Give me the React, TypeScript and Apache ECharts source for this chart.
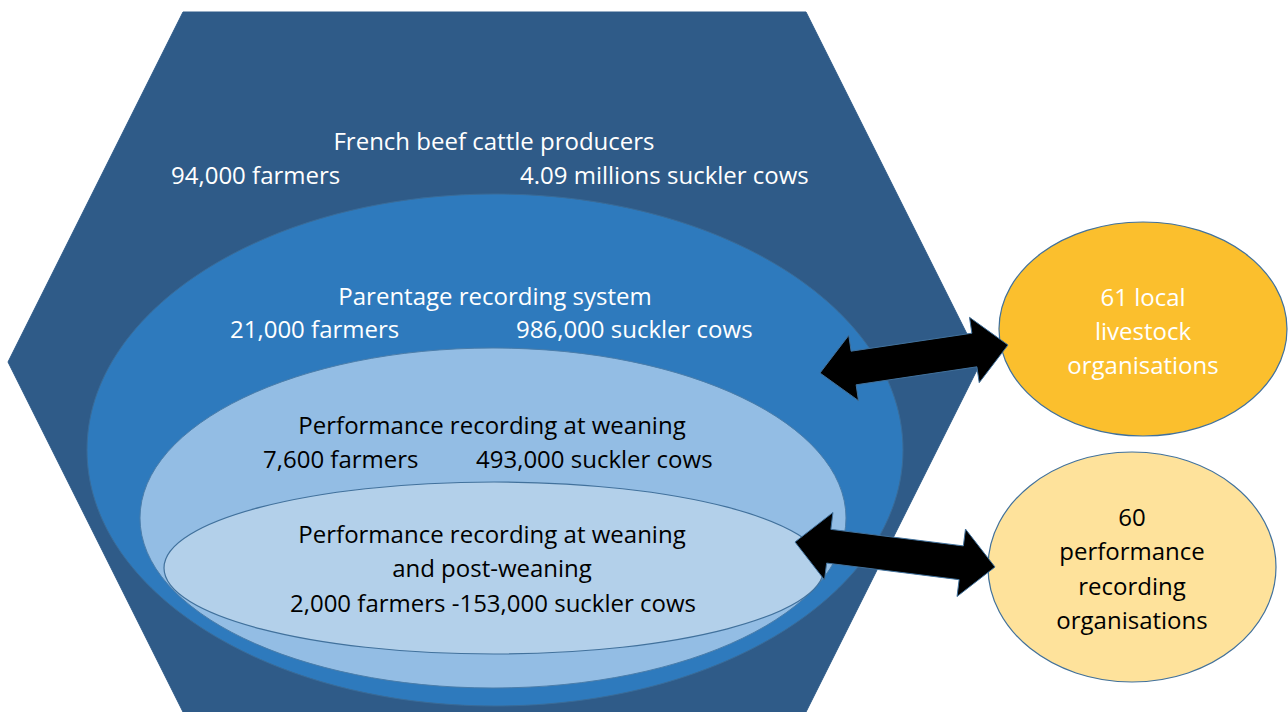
import React, { useEffect, useRef } from "react";
import * as echarts from "echarts";

// Diagram content
const hexLabel = ["French beef cattle producers", "94,000 farmers", "4.09 millions suckler cows"];
const parentageLabel = ["Parentage recording system", "21,000 farmers", "986,000 suckler cows"];
const weaningLabel = ["Performance recording at weaning", "7,600 farmers", "493,000 suckler cows"];
const postWeaningLabel = ["Performance recording at weaning", "and post-weaning", "2,000 farmers -153,000 suckler cows"];
const localOrgLabel = ["61 local", "livestock", "organisations"];
const perfOrgLabel = ["60", "performance", "recording", "organisations"];

const FONT = "'Open Sans', 'Noto Sans', sans-serif";
const FS = 24;

function arrowPoints(x1: number, y1: number, x2: number, y2: number, sh: number, hh: number, hl: number) {
  const dx = x2 - x1, dy = y2 - y1;
  const L = Math.hypot(dx, dy);
  const ux = dx / L, uy = dy / L;
  const nx = -uy, ny = ux;
  const b1x = x1 + ux * hl, b1y = y1 + uy * hl;
  const b2x = x2 - ux * hl, b2y = y2 - uy * hl;
  return [
    [x1, y1],
    [b1x + nx * hh, b1y + ny * hh],
    [b1x + nx * sh, b1y + ny * sh],
    [b2x + nx * sh, b2y + ny * sh],
    [b2x + nx * hh, b2y + ny * hh],
    [x2, y2],
    [b2x - nx * hh, b2y - ny * hh],
    [b2x - nx * sh, b2y - ny * sh],
    [b1x - nx * sh, b1y - ny * sh],
    [b1x - nx * hh, b1y - ny * hh],
  ];
}

function txt(text: string, x: number, y: number, fill: string, align: string = "center") {
  return {
    type: "text",
    z: 20,
    style: {
      text,
      x,
      y,
      fill,
      fontSize: FS,
      fontFamily: FONT,
      align,
      verticalAlign: "middle",
      textAlign: align,
      textVerticalAlign: "middle",
    },
  };
}

export default function App() {
  const ref = useRef<HTMLDivElement>(null);
  useEffect(() => {
    if (!ref.current) return;
    const chart = echarts.init(ref.current, undefined, { renderer: "svg" });
    const outline = "#41719C";
    const white = "#FFFFFF";
    const black = "#000000";
    const graphic: any[] = [
      {
        type: "polygon",
        z: 1,
        shape: { points: [[183, 12], [806, 12], [981, 362], [806, 712], [183, 712], [8, 362]] },
        style: { fill: "#2F5B88", stroke: "#2F5B88", lineWidth: 1 },
      },
      {
        type: "ellipse",
        z: 2,
        shape: { cx: 495, cy: 450, rx: 408, ry: 256 },
        style: { fill: "#2E7ABD", stroke: "#3A6C99", lineWidth: 1 },
      },
      {
        type: "ellipse",
        z: 3,
        shape: { cx: 493, cy: 518, rx: 353, ry: 170 },
        style: { fill: "#93BDE4", stroke: "#4A7DAA", lineWidth: 1 },
      },
      {
        type: "ellipse",
        z: 4,
        shape: { cx: 494, cy: 568, rx: 330, ry: 86 },
        style: { fill: "#B3D0EA", stroke: "#41719C", lineWidth: 1.2 },
      },
      {
        type: "ellipse",
        z: 4,
        shape: { cx: 1143, cy: 329, rx: 144, ry: 107 },
        style: { fill: "#FBBF2D", stroke: outline, lineWidth: 1.2 },
      },
      {
        type: "ellipse",
        z: 4,
        shape: { cx: 1132, cy: 567, rx: 144, ry: 115 },
        style: { fill: "#FEE29B", stroke: outline, lineWidth: 1.2 },
      },
      {
        type: "polygon",
        z: 10,
        shape: { points: arrowPoints(820, 373, 1008, 345, 17, 33, 34) },
        style: { fill: "#000000", stroke: outline, lineWidth: 1 },
      },
      {
        type: "polygon",
        z: 10,
        shape: { points: arrowPoints(795, 542, 995, 567, 17, 34, 34) },
        style: { fill: "#000000", stroke: outline, lineWidth: 1 },
      },
      txt(hexLabel[0], 494, 140, white),
      txt(hexLabel[1], 171, 174, white, "left"),
      txt(hexLabel[2], 520, 174, white, "left"),
      txt(parentageLabel[0], 495, 295, white),
      txt(parentageLabel[1], 230, 328, white, "left"),
      txt(parentageLabel[2], 516, 328, white, "left"),
      txt(weaningLabel[0], 492, 424, black),
      txt(weaningLabel[1], 263, 458, black, "left"),
      txt(weaningLabel[2], 476, 458, black, "left"),
      txt(postWeaningLabel[0], 492, 533, black),
      txt(postWeaningLabel[1], 492, 567, black),
      txt(postWeaningLabel[2], 493, 602, black),
      ...localOrgLabel.map((t, i) => txt(t, 1143, 296 + i * 34, white)),
      ...perfOrgLabel.map((t, i) => txt(t, 1132, 516 + i * 34.5, black)),
    ];
    chart.setOption({ animation: false, backgroundColor: "#FFFFFF", graphic });
    return () => chart.dispose();
  }, []);
  return <div ref={ref} style={{ position: "absolute", left: 0, top: 0, width: 1288, height: 712 }} />;
}
